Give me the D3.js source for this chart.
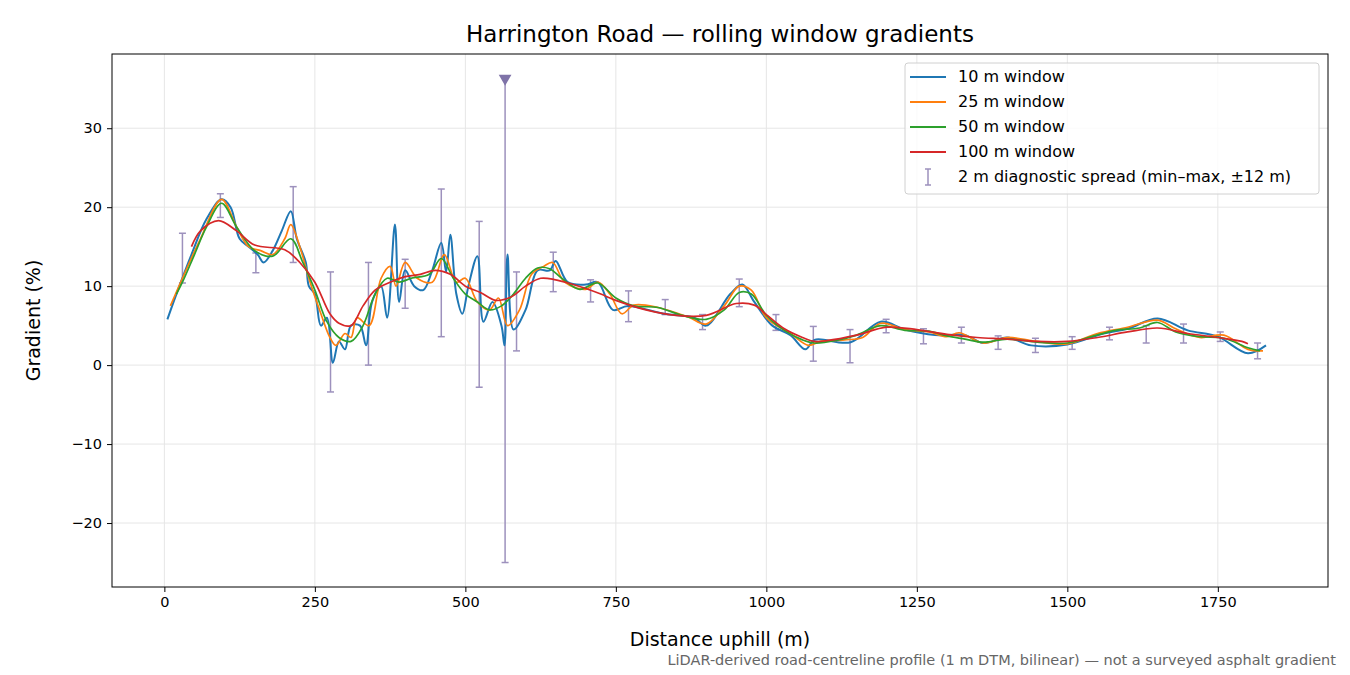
<!DOCTYPE html>
<html>
<head>
<meta charset="utf-8">
<script src="https://cdn.jsdelivr.net/npm/d3@7"></script>
<style>
body { margin: 0; background: #fff; }
text { font-family: "DejaVu Sans", sans-serif; }
</style>
</head>
<body>
<svg id="canvas" width="1350" height="675"></svg>
<script>
// rolling-window gradients, [distance m, gradient %]
const win10 = [[5,5.8],[20,9],[45,14],[70,18.5],[95,21],[110,20],[125,16],[140,15],[155,14],[165,13],[180,14.5],[195,17],[210,19.5],[220,16],[235,13],[240,10],[250,9],[260,5],[270,6],[280,0.3],[290,3],[300,2],[310,5],[325,5],[335,2.5],[345,8],[360,10],[370,6],[383,17.8],[390,8],[400,12],[415,10],[430,9.5],[445,12],[460,15.5],[468,11.8],[475,16.5],[485,9],[495,6.5],[505,10],[520,13.8],[530,5.5],[545,8],[560,5],[565,2.5],[570,14],[580,4.5],[600,7],[620,12],[640,12],[650,13.2],[670,10.5],[700,10.2],[720,10.5],[745,7],[770,7.5],[830,6.5],[880,6],[900,5],[940,9],[960,10.2],[980,8],[1010,5],[1040,3.8],[1065,2],[1080,3.2],[1140,2.9],[1190,5.5],[1230,4.5],[1280,3.8],[1330,3.8],[1360,2.8],[1400,3.5],[1440,2.5],[1500,2.6],[1560,4],[1600,4.6],[1650,5.9],[1700,4.4],[1750,3.6],[1800,1.5],[1830,2.5]];
const win25 = [[10,7.5],[30,11],[60,16],[95,21],[120,17.5],[140,15],[160,14.5],[180,14],[200,16],[210,17.8],[225,15],[240,11],[260,6.5],[275,3.5],[285,2.5],[300,4],[310,3.5],[320,6],[340,5],[360,11],[375,12.5],[385,10],[400,13],[420,11],[445,10.5],[465,14],[485,10.5],[500,11],[520,8],[540,7],[555,8.5],[570,5],[590,7],[610,11.5],[630,12.5],[645,13],[665,10.5],[700,9.6],[720,10.5],[740,9],[760,6.5],[780,7.6],[820,7.3],[870,6.1],[900,5.2],[930,7.5],[955,10],[975,9.5],[1000,6],[1040,4],[1070,2.5],[1090,3],[1130,3.2],[1160,3.5],[1190,5.3],[1230,4.5],[1270,4.2],[1300,3.6],[1320,4.1],[1360,2.8],[1400,3.5],[1450,3],[1500,2.7],[1550,4],[1600,4.8],[1650,5.7],[1680,4.6],[1720,3.5],[1760,3.8],[1800,2],[1825,1.8]];
const win50 = [[20,9],[30,10.5],[50,14],[70,17.5],[95,20.5],[120,17.5],[150,14.5],[180,13.8],[210,16],[230,13],[250,9.5],[270,5.5],[290,3.5],[310,3],[330,5],[350,9],[370,11],[390,10.5],[410,11],[440,11.5],[460,13.5],[480,11],[500,9],[520,8],[540,7],[560,7.5],[580,9],[600,11],[620,12.3],[640,12.2],[660,11],[690,9.6],[720,10.4],[750,8.5],[780,7.5],[820,7.3],[860,6.3],[900,5.8],[930,7],[955,9.2],[975,9],[1000,6.3],[1030,4.4],[1060,3.2],[1080,2.8],[1120,3.2],[1150,3.8],[1190,5],[1230,4.4],[1270,4.3],[1300,3.7],[1330,3.3],[1360,2.9],[1400,3.3],[1450,2.9],[1500,2.8],[1540,3.6],[1580,4.4],[1620,4.7],[1650,5.4],[1680,4.2],[1720,3.6],[1760,3.4],[1800,2.2],[1820,1.8]];
const win100 = [[45,15],[60,17],[90,18.3],[120,17],[150,15.2],[200,14.6],[225,13],[250,10.5],[275,6.5],[290,5.3],[310,5],[330,7.5],[350,9.5],[375,10.5],[400,11.2],[425,11.5],[450,12],[475,11.5],[500,10],[525,9.2],[550,8.2],[575,8.6],[600,10],[625,11],[650,10.8],[675,10.3],[700,9.7],[725,9],[750,8.2],[800,7],[850,6.3],[900,6.3],[950,7.8],[980,7.6],[1000,6.4],[1030,4.6],[1060,3.5],[1080,3],[1100,3.1],[1150,3.8],[1200,4.8],[1250,4.5],[1300,3.9],[1350,3.5],[1400,3.3],[1450,3],[1500,3],[1550,3.5],[1600,4.2],[1650,4.7],[1700,4],[1750,3.5],[1790,3],[1800,2.7]];
// 2 m diagnostic spread: [distance, min, max]
const spread = [[30,10.4,16.7],[93,18.7,21.7],[152,11.7,14.2],[214,13,22.6],[276,-3.4,11.8],[339,0,13],[400,7.2,13.4],[460,3.6,22.3],[523,-2.8,18.2],[566,-25,36.5],[585,1.8,11.8],[646,9.3,14.3],[708,8,10.8],[771,5.5,9.4],[832,6.4,8.3],[894,4.5,6.4],[955,7.4,10.9],[1016,4.4,6.4],[1078,0.5,4.9],[1139,0.3,4.5],[1199,4.1,5.8],[1261,2.7,4.6],[1324,2.8,4.8],[1385,2,3.7],[1447,1.6,3.4],[1508,2,3.6],[1570,3.2,4.8],[1631,2.8,5],[1693,2.8,5.2],[1754,3,4.2],[1816,0.8,2.8]];
const clipped = [[566,36.3]];
const xTicks = [0,250,500,750,1000,1250,1500,1750];
const yTicks = [-20,-10,0,10,20,30];

const series = [
  {name: "10 m window", data: win10, color: "#1f77b4"},
  {name: "25 m window", data: win25, color: "#ff7f0e"},
  {name: "50 m window", data: win50, color: "#2ca02c"},
  {name: "100 m window", data: win100, color: "#d62728"}
];
const SPREAD_COLOR = "#9d91bd";

const L = 112, R = 1328, T = 54, B = 587;
const svg = d3.select("#canvas");

const x = d3.scaleLinear().domain([-87, 1933]).range([L, R]);
const y = d3.scaleLinear().domain([-28.1, 39.4]).range([B, T]);

// grid
svg.append("g").selectAll("line").data(xTicks).enter().append("line")
    .attr("x1", d => x(d)).attr("x2", d => x(d)).attr("y1", T).attr("y2", B)
    .attr("stroke", "#e6e6e6").attr("stroke-width", 1);
svg.append("g").selectAll("line").data(yTicks).enter().append("line")
    .attr("x1", L).attr("x2", R).attr("y1", d => y(d)).attr("y2", d => y(d))
    .attr("stroke", "#e6e6e6").attr("stroke-width", 1);

// error bars
const eb = svg.append("g").attr("stroke", SPREAD_COLOR).attr("stroke-width", 1.5);
eb.selectAll(".v").data(spread).enter().append("line")
    .attr("x1", d => x(d[0])).attr("x2", d => x(d[0]))
    .attr("y1", d => y(d[1])).attr("y2", d => y(d[2]));
eb.selectAll(".lo").data(spread).enter().append("line")
    .attr("x1", d => x(d[0]) - 3.5).attr("x2", d => x(d[0]) + 3.5)
    .attr("y1", d => y(d[1])).attr("y2", d => y(d[1]));
eb.selectAll(".hi").data(spread).enter().append("line")
    .attr("x1", d => x(d[0]) - 3.5).attr("x2", d => x(d[0]) + 3.5)
    .attr("y1", d => y(d[2])).attr("y2", d => y(d[2]));

// lines
const line = d3.line().x(d => x(d[0])).y(d => y(d[1])).curve(d3.curveCatmullRom);
svg.append("g").selectAll("path").data(series).enter().append("path")
    .attr("d", s => line(s.data))
    .attr("fill", "none")
    .attr("stroke", s => s.color)
    .attr("stroke-width", s => s.name === "10 m window" ? 2 : 1.7);

// clipped outlier marker
svg.append("g").selectAll("path").data(clipped).enter().append("path")
    .attr("d", d3.symbol(d3.symbolTriangle, 70))
    .attr("transform", d => `translate(${x(d[0])},${y(d[1])}) rotate(180)`)
    .attr("fill", "#7f73a8");

// axes
const xAxis = svg.append("g").attr("transform", `translate(0,${B})`)
    .call(d3.axisBottom(x).tickValues(xTicks).tickSize(5).tickPadding(5).tickFormat(d3.format("d")));
const yAxis = svg.append("g").attr("transform", `translate(${L},0)`)
    .call(d3.axisLeft(y).tickValues(yTicks).tickSize(5).tickPadding(5)
        .tickFormat(d => d < 0 ? "\u2212" + Math.abs(d) : d));
[xAxis, yAxis].forEach(a => {
    a.select(".domain").remove();
    a.selectAll("text").style("font-size", "14.5px").attr("fill", "#000");
    a.selectAll("line").attr("stroke", "#000");
});
svg.append("rect").attr("x", L).attr("y", T).attr("width", R - L).attr("height", B - T)
    .attr("fill", "none").attr("stroke", "#000").attr("stroke-width", 1);

// labels
svg.append("text").attr("x", (L + R) / 2).attr("y", 42).attr("text-anchor", "middle")
    .style("font-size", "23px").text("Harrington Road \u2014 rolling window gradients");
svg.append("text").attr("x", (L + R) / 2).attr("y", 646).attr("text-anchor", "middle")
    .style("font-size", "19px").text("Distance uphill (m)");
svg.append("text").attr("transform", `translate(40,${(T + B) / 2}) rotate(-90)`)
    .attr("text-anchor", "middle").style("font-size", "19px").text("Gradient (%)");
svg.append("text").attr("x", 1336).attr("y", 665).attr("text-anchor", "end")
    .style("font-size", "14.5px").attr("fill", "#666")
    .text("LiDAR-derived road-centreline profile (1 m DTM, bilinear) \u2014 not a surveyed asphalt gradient");

// legend
const lg = svg.append("g").attr("transform", "translate(905,63)");
lg.append("rect").attr("width", 414).attr("height", 131).attr("rx", 3)
    .attr("fill", "#fff").attr("fill-opacity", 0.8).attr("stroke", "#d0d0d0");
const items = series.map(s => ({name: s.name, color: s.color, kind: "line"}))
    .concat([{name: "2 m diagnostic spread (min\u2013max, \u00b112 m)", color: SPREAD_COLOR, kind: "err"}]);
const li = lg.selectAll(".item").data(items).enter().append("g")
    .attr("transform", (d, i) => `translate(0,${14 + i * 25})`);
li.filter(d => d.kind === "line").append("line")
    .attr("x1", 5).attr("x2", 41).attr("stroke", d => d.color).attr("stroke-width", 2);
const e = li.filter(d => d.kind === "err");
e.append("line").attr("x1", 23).attr("x2", 23).attr("y1", -8).attr("y2", 8)
    .attr("stroke", SPREAD_COLOR).attr("stroke-width", 1.5);
e.append("line").attr("x1", 20).attr("x2", 26).attr("y1", -8).attr("y2", -8).attr("stroke", SPREAD_COLOR).attr("stroke-width", 1.5);
e.append("line").attr("x1", 20).attr("x2", 26).attr("y1", 8).attr("y2", 8).attr("stroke", SPREAD_COLOR).attr("stroke-width", 1.5);
li.append("text").attr("x", 53).attr("y", 5).style("font-size", "16px").text(d => d.name);
</script>
</body>
</html>
